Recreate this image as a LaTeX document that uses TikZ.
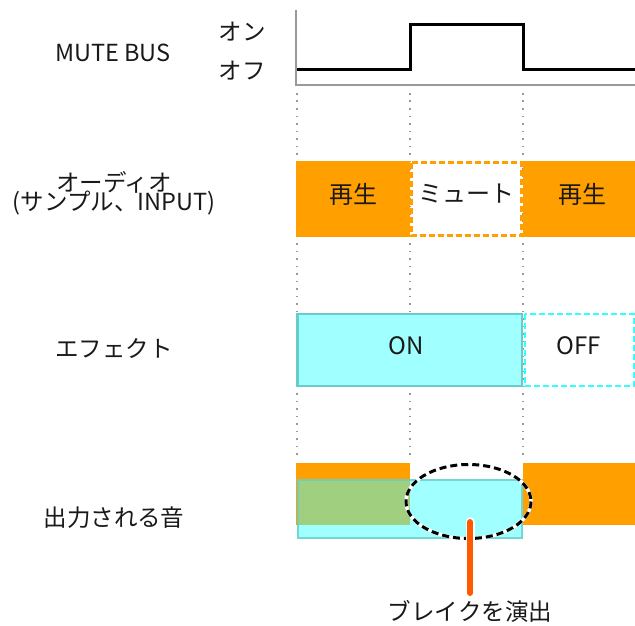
\documentclass[tikz,border=0pt]{standalone}
\usepackage{fontspec}
\setmainfont{Noto Sans CJK JP}
\usetikzlibrary{calc}
\definecolor{borange}{HTML}{FFA000}
\definecolor{bcyan}{HTML}{A0FFFF}
\definecolor{bteal}{HTML}{66CCCC}
\definecolor{boff}{HTML}{33FFFF}
\definecolor{bgreen}{HTML}{A0CF80}
\definecolor{bred}{HTML}{FF5A00}
\definecolor{bgray}{HTML}{999999}
\tikzset{
  lbl/.style={font=\fontsize{23.5}{25}\selectfont, inner sep=0pt, text=black!90},
  boxtxt/.style={font=\fontsize{24}{26}\selectfont, inner sep=0pt, text=black!90},
  guide/.style={draw=bgray, line width=1.6pt, dash pattern=on 1.6pt off 5.9pt},
  dsh/.style={line width=2.4pt, dash pattern=on 6pt off 3pt},
}
\begin{document}
\begin{tikzpicture}[x=1pt,y=-1pt]
\useasboundingbox (0,0) rectangle (635,626);
% guides
\coordinate (g1t) at (297,93); \coordinate (g1b) at (297,458);
\coordinate (g2t) at (410,93); \coordinate (g2b) at (410,458);
\coordinate (g3t) at (523,93); \coordinate (g3b) at (523,458);
\draw[guide] (g1t) -- (g1b);
\draw[guide] (g2t) -- (g2b);
\draw[guide] (g3t) -- (g3b);
% axis
\coordinate (ax0) at (296,10); \coordinate (ax1) at (296,85); \coordinate (ax2) at (635,85);
\draw[bgray, line width=2pt] (ax0) -- (ax1) -- (ax2);
\coordinate (s0) at (297,70);
\draw[black, line width=3pt] (s0) -- (410,70) -- (410,25) -- (523,25) -- (523,70) -- (635,70);
% labels
\node[lbl] (mute) at (113,53) {MUTE BUS};
\node[lbl] (on) at (242,32) {オン};
\node[lbl] (off) at (242,71) {オフ};
\node[lbl] (aud1) at (114,182) {オーディオ};
\node[lbl] (aud2) at (114,203) {(サンプル、INPUT)};
\node[lbl] (eff) at (114,349) {エフェクト};
\node[lbl] (outp) at (114,518) {出力される音};
% row 2
\fill[borange] (296,161) rectangle (410,237);
\fill[borange] (523,161) rectangle (635,237);
\draw[borange, fill=white, dsh] (411.5,162.5) rectangle (521.5,235.5);
\node[boxtxt] (play1) at (353,194) {再生};
\node[boxtxt] (mutet) at (466,194) {ミュート};
\node[boxtxt] (play2) at (582,194) {再生};
% row 3
\draw[bteal, fill=bcyan, line width=2.4pt] (297.5,314) rectangle (522,386);
\draw[boff, fill=white, dsh] (525,314) rectangle (634,386);
\node[boxtxt] (ont) at (406,346) {ON};
\node[boxtxt] (offt) at (579,346) {OFF};
% row 4
\fill[borange] (296,463) rectangle (410,525);
\fill[borange] (523,463) rectangle (635,525);
\fill[bcyan] (297,479) rectangle (523,539);
\fill[bgreen] (297,479) rectangle (410,525);
\draw[bteal, opacity=0.8, line width=2.4pt] (298,480) rectangle (522,538);
\draw[white, line width=3.4pt] (468.5,501.5) ellipse (62.5 and 37);
\draw[black, line width=3pt, dash pattern=on 7pt off 4pt] (468.5,501.5) ellipse (62.5 and 37);
\coordinate (lt) at (470,522); \coordinate (lb) at (470,593);
\draw[white, line width=9pt, line cap=round] (lt) -- (lb);
\draw[bred, line width=6pt, line cap=round] (lt) -- (lb);
\node[lbl] (brk) at (470,611) {ブレイクを演出};
\end{tikzpicture}
\end{document}
